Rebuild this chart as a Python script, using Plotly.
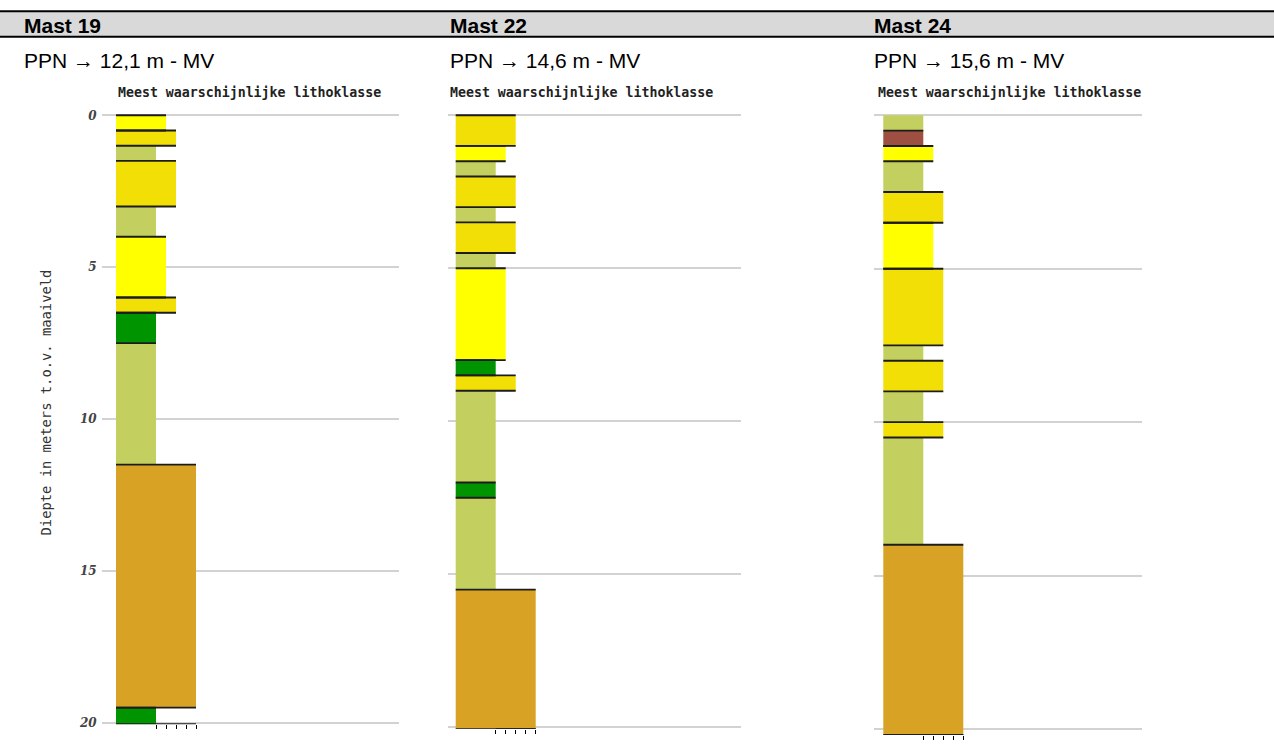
import plotly.graph_objects as go

W, H = 1274, 747

# ---------------- data ----------------
mast_names = ["Mast 19", "Mast 22", "Mast 24"]
ppn_labels = ["PPN \u2192 12,1 m - MV", "PPN \u2192 14,6 m - MV", "PPN \u2192 15,6 m - MV"]
subtitle = "Meest waarschijnlijke lithoklasse"
y_title = "Diepte in meters t.o.v. maaiveld"

class_names = ["veen", "klei", "kleiig zand", "fijn zand", "middelgrof zand", "grind"]
class_values = [40, 40, 40, 50, 60, 80]          # bar length per lithoklasse
class_colors = ["#9d4f42", "#009400", "#c3cf5e", "#ffff00", "#f2df06", "#d8a324"]

depth_ticks = [0, 5, 10, 15, 20]
class_ticks = [40, 50, 60, 70, 80]

m19_bounds = [0, 0.5, 1.0, 1.5, 3.0, 4.0, 6.0, 6.5, 7.5, 11.5, 19.5, 20.05]
m19_class = ["fijn zand", "middelgrof zand", "kleiig zand", "middelgrof zand", "kleiig zand",
             "fijn zand", "middelgrof zand", "klei", "kleiig zand", "grind", "klei"]

m22_bounds = [0, 1.0, 1.5, 2.0, 3.0, 3.5, 4.5, 5.0, 8.0, 8.5, 9.0, 12.0, 12.5, 15.5, 20.05]
m22_class = ["middelgrof zand", "fijn zand", "kleiig zand", "middelgrof zand", "kleiig zand",
             "middelgrof zand", "kleiig zand", "fijn zand", "klei", "middelgrof zand",
             "kleiig zand", "klei", "kleiig zand", "grind"]

m24_bounds = [0, 0.5, 1.0, 1.5, 2.5, 3.5, 5.0, 7.5, 8.0, 9.0, 10.0, 10.5, 14.0, 20.2]
m24_class = ["kleiig zand", "veen", "fijn zand", "kleiig zand", "middelgrof zand", "fijn zand",
             "middelgrof zand", "kleiig zand", "middelgrof zand", "kleiig zand",
             "middelgrof zand", "kleiig zand", "grind"]

logs = [(m19_bounds, m19_class), (m22_bounds, m22_class), (m24_bounds, m24_class)]

# ---------------- layout geometry (pixels) ----------------
# vertical calibration of the photographed page
CAL_A, CAL_B = 4.75, 0.9848


def py(target_px):
    """paper y fraction for a target vertical pixel position"""
    return 1 - ((target_px - CAL_A) / CAL_B) / H


panels = [
    dict(x0=101.7, x1=399.0, bar_left=116.0, zero_px=115.0, ppm=30.36, text_x=22, sub_x=115.5, show_labels=True),
    dict(x0=448.0, x1=740.7, bar_left=455.7, zero_px=115.0, ppm=30.585, text_x=448, sub_x=448, show_labels=False),
    dict(x0=874.0, x1=1142.0, bar_left=883.3, zero_px=115.0, ppm=30.665, text_x=872, sub_x=875.5, show_labels=False),
]
ymin = -0.06

fig = go.Figure()
annotations = []
shapes = []

cval = dict(zip(class_names, class_values))
ccol = dict(zip(class_names, class_colors))

for i, (p, (bounds, classes)) in enumerate(zip(panels, logs)):
    n = i + 1
    xa = "x" if n == 1 else f"x{n}"
    ya = "y" if n == 1 else f"y{n}"
    ymax = bounds[-1]

    tops = bounds[:-1]
    bots = bounds[1:]
    mids = [(a + b) / 2 for a, b in zip(tops, bots)]
    thick = [b - a for a, b in zip(tops, bots)]
    vals = [cval[c] for c in classes]
    cols = [ccol[c] for c in classes]

    fig.add_trace(go.Bar(
        orientation="h", y=mids, x=vals, base=0, width=thick,
        marker=dict(color=cols, line=dict(width=0)),
        xaxis=xa, yaxis=ya, showlegend=False, hoverinfo="skip"))

    # layer boundary lines (not for kleiig zand)
    lx, ly = [], []
    for t, b, v, c in zip(tops, bots, vals, classes):
        if c == "kleiig zand":
            continue
        for d in (t, b):
            lx += [0, v, None]
            ly += [d, d, None]
    # baseline under the class ticks
    lx += [min(class_ticks), max(class_ticks), None]
    ly += [ymax, ymax, None]
    fig.add_trace(go.Scatter(
        x=lx, y=ly, mode="lines", line=dict(color="#1c1c1c", width=1.9),
        xaxis=xa, yaxis=ya, showlegend=False, hoverinfo="skip", cliponaxis=False))

    top_px = p["zero_px"] + ymin * p["ppm"]
    bot_px = p["zero_px"] + ymax * p["ppm"]
    xdom = [p["x0"] / W, p["x1"] / W]
    ydom = [py(bot_px), py(top_px)]

    fig.layout[("xaxis" if n == 1 else f"xaxis{n}")] = dict(
        domain=xdom, range=[p["x0"] - p["bar_left"], p["x1"] - p["bar_left"]],
        anchor=ya, tickvals=class_ticks, ticks="outside", ticklen=4, tickwidth=1,
        tickcolor="#000000", showticklabels=False, showgrid=False, zeroline=False,
        showline=False, fixedrange=True)
    fig.layout[("yaxis" if n == 1 else f"yaxis{n}")] = dict(
        domain=ydom, range=[ymax, ymin], anchor=xa, tickvals=depth_ticks,
        showgrid=True, gridcolor="#d2d2d2", gridwidth=1.7, zeroline=False,
        showline=False, ticks="", showticklabels=p["show_labels"],
        ticklabelstandoff=4,
        tickfont=dict(family="DejaVu Serif", size=12, color="#444444",
                      weight="bold", style="italic"),
        fixedrange=True)

    # texts
    annotations.append(dict(text=f"<b>{mast_names[i]}</b>", xref="paper", yref="paper",
                            x=p["text_x"] / W, y=py(25), xanchor="left", yanchor="middle",
                            showarrow=False, font=dict(family="Liberation Sans", size=21, color="#000000")))
    annotations.append(dict(text=ppn_labels[i], xref="paper", yref="paper",
                            x=p["text_x"] / W, y=py(60), xanchor="left", yanchor="middle",
                            showarrow=False, font=dict(family="Liberation Sans", size=21, color="#000000")))
    annotations.append(dict(text=f"<b>{subtitle}</b>", xref="paper", yref="paper",
                            x=p["sub_x"] / W, y=py(92), xanchor="left", yanchor="middle",
                            showarrow=False, font=dict(family="DejaVu Sans Mono", size=13.25, color="#222222")))

annotations.append(dict(text=y_title, xref="paper", yref="paper", x=46 / W, y=py(402),
                        xanchor="center", yanchor="middle", textangle=-90, showarrow=False,
                        font=dict(family="DejaVu Sans Mono", size=13.8, color="#333333")))

# header band
shapes.append(dict(type="rect", xref="paper", yref="paper", x0=0, x1=1,
                   y0=py(36), y1=py(11), fillcolor="#d9d9d9", line=dict(width=0), layer="below"))
shapes.append(dict(type="line", xref="paper", yref="paper", x0=0, x1=1,
                   y0=py(11), y1=py(11), line=dict(color="#000000", width=2)))
shapes.append(dict(type="line", xref="paper", yref="paper", x0=0, x1=1,
                   y0=py(36.5), y1=py(36.5), line=dict(color="#000000", width=2)))

fig.update_layout(
    width=W, height=H, margin=dict(l=0, r=0, t=0, b=0),
    paper_bgcolor="#ffffff", plot_bgcolor="rgba(0,0,0,0)",
    annotations=annotations, shapes=shapes, barmode="overlay", showlegend=False)

fig.write_html("out.html", config={"displayModeBar": False})
